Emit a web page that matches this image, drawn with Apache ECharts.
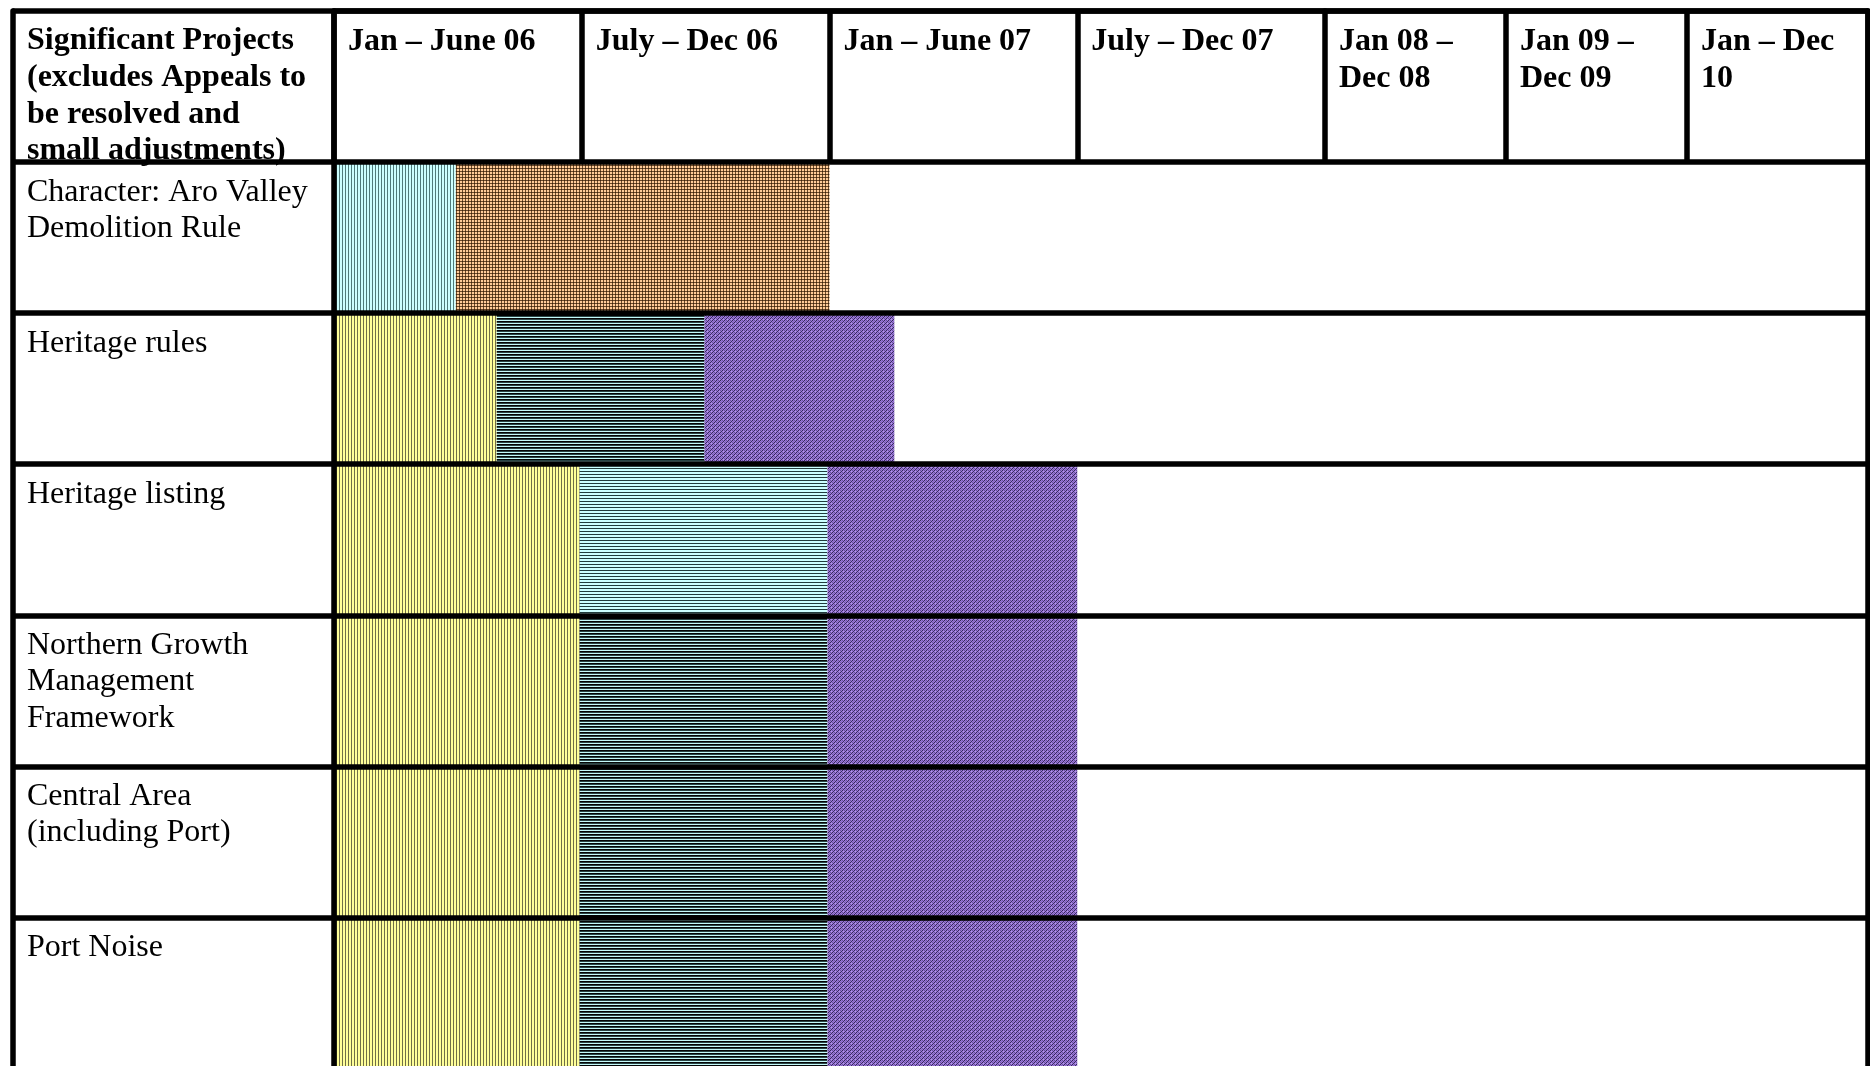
<!DOCTYPE html>
<html><head><meta charset="utf-8">
<script src="https://cdn.jsdelivr.net/npm/echarts@6/dist/echarts.min.js"></script>
<style>html,body{margin:0;padding:0;background:#fff}#c{width:1870px;height:1066px}</style>
</head><body><div id="c"></div>
<script>
// ---- data ----
const headerTitle = ['Significant Projects', '(excludes Appeals to', 'be resolved and', 'small adjustments)'];
const projects = [
  ['Character: Aro Valley', 'Demolition Rule'],
  ['Heritage rules'],
  ['Heritage listing'],
  ['Northern Growth', 'Management', 'Framework'],
  ['Central Area', '(including Port)'],
  ['Port Noise']
];
const halfYearMonths = [0, 6, 12, 18];
const halfYearLabels = [['Jan – June 06'], ['July – Dec 06'], ['Jan – June 07'], ['July – Dec 07']];
const yearMonths = [24, 36, 48];
const yearLabels = [['Jan 08 –', 'Dec 08'], ['Jan 09 –', 'Dec 09'], ['Jan – Dec', '10']];
// segments (months from Jan 2006)
const segRow   = [0, 0, 1, 1, 1, 2, 2, 2, 3, 3, 3, 4, 4, 4, 5, 5, 5];
const segStart = [0, 2.95, 0, 3.94, 8.97, 0, 5.95, 11.95, 0, 5.95, 11.95, 0, 5.95, 11.95, 0, 5.95, 11.95];
const segEnd   = [2.95, 12, 3.94, 8.97, 13.57, 5.95, 11.95, 18, 5.95, 11.95, 18, 5.95, 11.95, 18, 5.95, 11.95, 18];
const segFill  = [0, 1, 2, 3, 4, 2, 5, 4, 2, 3, 4, 2, 3, 4, 2, 3, 4];

// ---- styles ----
function pattern(w, h, colorAt) {
  const cv = document.createElement('canvas');
  cv.width = w; cv.height = h;
  const ctx = cv.getContext('2d');
  for (let y = 0; y < h; y++) for (let x = 0; x < w; x++) {
    ctx.fillStyle = colorAt(x, y); ctx.fillRect(x, y, 1, 1);
  }
  return { image: cv, repeat: 'repeat' };
}
const fills = [
  pattern(3, 1, x => x === 0 ? '#4f7a7a' : '#ccffff'),
  pattern(3, 3, (x, y) => (x === 0 && y === 0) ? '#3a2410' : (x === 0 || y === 0) ? '#6e4a28' : '#ffcc99'),
  pattern(3, 1, x => x === 0 ? '#6f6f48' : '#ffff99'),
  pattern(1, 3, (x, y) => ['#050505', '#2a4444', '#c4fafa'][y]),
  pattern(4, 4, (x, y) => [
    ['#34285a', '#9c78d8', '#6a52a0', '#9c78d8'],
    ['#9c78d8', '#8466c0', '#9c78d8', '#3a2c62'],
    ['#6a52a0', '#9c78d8', '#34285a', '#9c78d8'],
    ['#9c78d8', '#3a2c62', '#9c78d8', '#b597ea']
  ][y][x]),
  pattern(1, 3, (x, y) => ['#203c3c', '#ccffff', '#ccffff'][y])
];

const LW = 5.5;
const ls = { color: '#000', width: LW };
const FONT = '"Liberation Serif", "Times New Roman", serif';
const rich = {
  h: { fontFamily: FONT, fontWeight: 'bold', fontSize: 32, lineHeight: 36.6, color: '#000' },
  b: { fontFamily: FONT, fontWeight: 'normal', fontSize: 32, lineHeight: 36.6, color: '#000' }
};
const wrap = (lines, tag) => lines.map(l => '{' + tag + '|' + l + '}').join('\n');

const gridBase = { top: 11, height: 1057.5, outerBoundsMode: 'none', containLabel: false };
function yAxis(gi, extra) {
  return Object.assign({
    type: 'value', gridIndex: gi, min: -1, max: 6, interval: 1, inverse: true, z: 5,
    splitLine: { show: true, lineStyle: ls },
    axisTick: { show: false },
    axisLine: { show: true, onZero: false, lineStyle: ls },
    axisLabel: { show: false }
  }, extra);
}
function xAxis(gi, min, max, interval, months, labels) {
  return {
    type: 'value', gridIndex: gi, min, max, interval, position: 'top', z: 5,
    axisLine: { show: true, onZero: false, lineStyle: ls },
    axisTick: { show: true, inside: true, length: 151, lineStyle: ls },
    splitLine: { show: false },
    axisLabel: {
      show: true, inside: true, margin: 12.5, align: 'left', verticalAlign: 'top',
      padding: [0, 0, 0, 14], rich,
      showMinLabel: true, showMaxLabel: true,
      formatter: v => { const i = months.indexOf(v); return i < 0 ? '' : wrap(labels[i], 'h'); }
    }
  };
}

const chart = echarts.init(document.getElementById('c'), null, { renderer: 'canvas' });
chart.setOption({
  animation: false,
  backgroundColor: '#fff',
  grid: [
    Object.assign({ left: 12.5, width: 321.5 }, gridBase),
    Object.assign({ left: 334, width: 991 }, gridBase),
    Object.assign({ left: 1325, width: 543 }, gridBase)
  ],
  xAxis: [
    { type: 'value', gridIndex: 0, min: 0, max: 1, show: false },
    xAxis(1, 0, 24, 6, halfYearMonths, halfYearLabels),
    xAxis(2, 24, 60, 12, yearMonths, yearLabels)
  ],
  yAxis: [
    yAxis(0, {
      axisLabel: {
        show: true, inside: true, margin: 14.5, align: 'left', verticalAlign: 'top',
        padding: [11.8, 0, 0, 0], rich, showMinLabel: true,
        formatter: v => v === -1 ? wrap(headerTitle, 'h') : (projects[v] ? wrap(projects[v], 'b') : '')
      }
    }),
    yAxis(1, {}),
    yAxis(2, { position: 'right' })
  ],
  series: [{
    type: 'custom', xAxisIndex: 1, yAxisIndex: 1, z: 2, clip: false,
    data: segRow.map((r, i) => [segStart[i], segEnd[i], r, segFill[i]]),
    encode: { x: [0, 1], y: 2 },
    renderItem: (params, api) => {
      const p0 = api.coord([api.value(0), api.value(2)]);
      const p1 = api.coord([api.value(1), api.value(2) + 1]);
      return {
        type: 'rect',
        shape: { x: p0[0], y: p0[1], width: p1[0] - p0[0], height: p1[1] - p0[1] },
        style: { fill: fills[api.value(3)] }
      };
    }
  }]
});
</script></body></html>
